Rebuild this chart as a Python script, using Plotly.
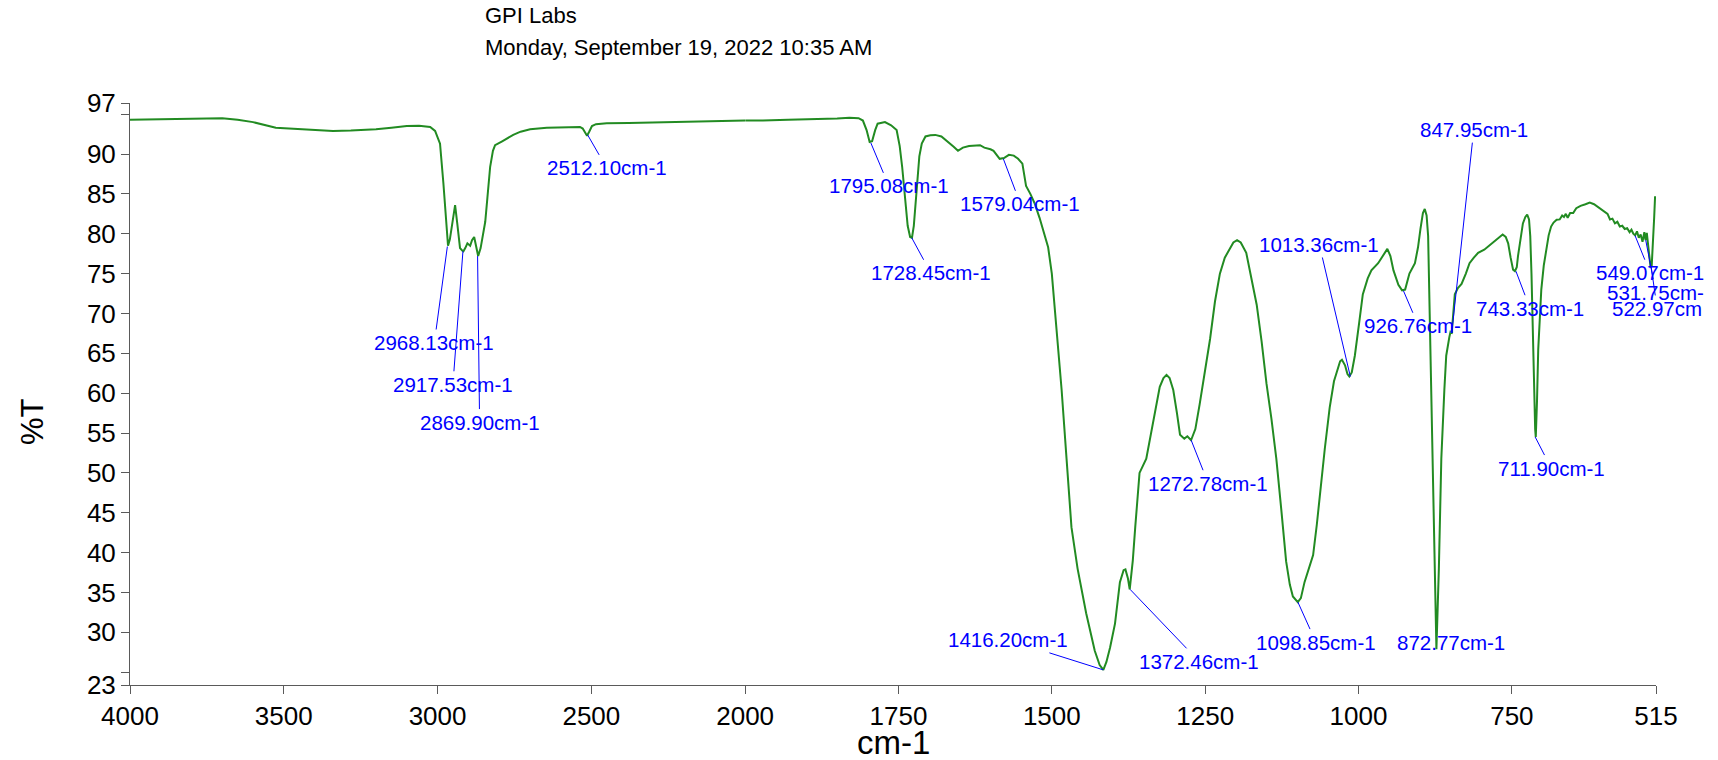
import plotly.graph_objects as go

# ---------------- data ----------------
wavenumber = [4000, 3950, 3900, 3850, 3800, 3750, 3700, 3650, 3600, 3526, 3450, 3400, 3340, 3282, 3240, 3200, 3150, 3100, 3060, 3040, 3024,
              3008, 2992, 2981, 2972, 2966, 2960, 2954, 2948, 2943, 2936, 2931, 2927, 2920, 2916, 2910, 2903, 2894, 2888, 2881, 2875, 2868,
              2860, 2852, 2845, 2838, 2829, 2820, 2813, 2790, 2754, 2730, 2699, 2645, 2600, 2560, 2537, 2528, 2520, 2514, 2507, 2498, 2485,
              2450, 2378, 2300, 2250, 2192, 2150, 2100, 2050, 2000,
              1971, 1930, 1890, 1850, 1830, 1815, 1808, 1802, 1797, 1793, 1788, 1784, 1772, 1762, 1753, 1748, 1744, 1740, 1735, 1731, 1728,
              1725, 1722, 1719, 1716, 1712, 1706, 1698, 1690, 1680, 1670, 1660, 1653, 1645, 1635, 1625, 1617, 1610, 1600, 1595, 1590, 1585,
              1578, 1570, 1562, 1555, 1548, 1542, 1535, 1528, 1520, 1512, 1506, 1500, 1492, 1484, 1476, 1468, 1458, 1444, 1430, 1422, 1416,
              1411, 1405, 1397, 1389, 1383, 1380, 1376, 1373, 1368, 1364, 1357, 1346, 1335, 1324, 1318, 1313, 1308, 1302, 1296, 1291, 1284,
              1279, 1273, 1266, 1259, 1250, 1242, 1234, 1226, 1218, 1210, 1204, 1198, 1192, 1183, 1175, 1166, 1158, 1150, 1142, 1134, 1126,
              1118, 1112, 1107, 1099, 1094, 1088, 1080, 1074, 1068, 1063, 1055, 1047, 1040, 1036, 1030, 1027, 1022, 1018, 1015, 1011, 1006,
              999, 993, 985, 979, 968, 960, 953, 948, 943, 935, 929, 924, 917, 908, 903, 899, 895, 892, 889, 886.5, 884, 881, 877, 873, 869,
              865, 860, 857, 852, 850, 848, 845, 843, 838, 832, 825, 819, 812, 805, 795, 786, 775, 765, 760, 756, 752, 748, 745, 742, 740,
              736, 732, 728, 725, 722, 720, 718, 716, 714, 712, 711, 709, 707, 704, 702, 698, 694, 690, 686, 682, 677, 672, 668, 665, 662,
              659, 655, 650, 645, 638, 630, 623, 616, 610, 604, 599, 594, 590, 586, 582, 578, 574, 570, 566, 562, 558, 555, 552, 549, 546,
              543, 540, 537, 534, 532, 530, 528, 526, 524, 522, 520, 518, 516.5]
transmittance = [94.3, 94.3, 94.35, 94.4, 94.45, 94.5, 94.5, 94.3, 94.0, 93.3, 93.15, 93.05, 92.9, 92.95, 93.0, 93.1, 93.3, 93.5, 93.55, 93.5, 93.4,
                 92.9, 91.3, 86.3, 82.2, 78.5, 79.3, 80.9, 82.8, 83.6, 81.3, 79.3, 78.2, 77.9, 77.8, 78.2, 78.8, 78.5, 79.2, 79.6, 78.4, 77.2,
                 78.2, 80.0, 81.5, 84.5, 88.4, 90.4, 91.1, 91.6, 92.4, 92.8, 93.1, 93.3, 93.35, 93.4, 93.4, 93.2, 92.6, 92.3, 92.8, 93.5, 93.75,
                 93.85, 93.9, 93.95, 94.0, 94.0, 94.05, 94.1, 94.15, 94.2,
                 94.2, 94.3, 94.35, 94.45, 94.55, 94.5, 94.2, 93.0, 91.5, 91.6, 93.0, 93.8, 94.0, 93.6, 93.0, 91.0, 88.4, 85.0, 81.0, 79.6, 79.5,
                 81.0, 84.2, 87.5, 89.7, 91.3, 92.2, 92.35, 92.4, 92.2, 91.6, 90.9, 90.4, 90.8, 91.0, 91.1, 91.1, 90.8, 90.6, 90.4, 89.9, 89.4,
                 89.5, 89.9, 89.8, 89.4, 88.8, 86.0, 85.0, 83.8, 82.0, 79.8, 78.3, 75.0, 68.1, 60.4, 51.8, 43.2, 38.0, 32.4, 27.7, 25.9, 25.3,
                 26.3, 28.1, 31.1, 36.3, 37.8, 37.9, 36.8, 35.4, 39.0, 43.2, 50.0, 51.8, 56.1, 60.8, 61.9, 62.3, 61.9, 60.4, 57.5, 54.8, 54.3,
                 54.6, 54.1, 55.5, 58.6, 63.0, 66.8, 71.5, 75.0, 77.0, 78.2, 78.9, 79.2, 78.9, 77.6, 74.5, 71.1, 66.5, 61.2, 56.8, 51.8, 45.5,
                 38.9, 36.0, 34.5, 33.8, 34.3, 36.3, 38.4, 39.7, 43.5, 47.5, 53.0, 58.2, 61.5, 62.5, 64.0, 64.2, 63.5, 62.4, 62.1, 62.6, 64.7,
                 68.8, 72.4, 74.4, 75.4, 76.3, 77.2, 78.1, 77.2, 75.4, 73.6, 72.9, 73.0, 75.0, 76.3, 78.3, 80.6, 82.6, 83.1, 82.3, 79.7, 70.0,
                 56.1, 40.0, 27.9, 38.0, 51.8, 60.5, 64.7, 67.0, 67.7, 67.6, 70.5, 72.4, 73.2, 73.7, 75.0, 76.3, 77.0, 77.6, 78.0, 78.6, 79.3,
                 79.9, 79.6, 78.8, 77.0, 75.5, 75.3, 75.8, 77.2, 79.5, 81.3, 82.1, 82.4, 81.8, 79.7, 75.0, 69.7, 62.0, 55.5, 54.5, 59.0, 65.5,
                 70.0, 73.0, 76.0, 78.0, 79.8, 80.9, 81.4, 81.75, 81.8, 82.3, 82.1, 82.5, 82.0, 82.6, 82.6, 83.2, 83.5, 83.7, 83.9, 83.7, 83.4,
                 83.1, 82.8, 82.5, 81.8, 81.9, 81.3, 81.5, 80.9, 81.0, 80.6, 80.7, 80.2, 80.5, 80.0, 79.8, 80.3, 79.5, 79.9, 79.0, 80.2, 79.2,
                 80.1, 78.4, 77.0, 75.9, 76.0, 78.5, 82.0, 84.7]

peak_positions = [2968.13, 2917.53, 2869.90, 2512.10, 1795.08, 1728.45, 1579.04, 1416.20, 1372.46, 1272.78, 1098.85,
                  1013.36, 926.76, 872.77, 847.95, 743.33, 711.90, 549.07, 531.75, 522.97]
peak_values = [78.4, 77.8, 77.2, 92.4, 91.4, 79.5, 89.4, 25.3, 35.4, 54.1, 33.8,
               62.1, 72.85, 27.9, 67.6, 75.3, 54.5, 79.75, 79.2, 75.9]
peak_labels = ["2968.13cm-1", "2917.53cm-1", "2869.90cm-1", "2512.10cm-1", "1795.08cm-1", "1728.45cm-1", "1579.04cm-1",
               "1416.20cm-1", "1372.46cm-1", "1272.78cm-1", "1098.85cm-1", "1013.36cm-1", "926.76cm-1", "872.77cm-1",
               "847.95cm-1", "743.33cm-1", "711.90cm-1", "549.07cm-1", "531.75cm-", "522.97cm"]
# label offsets (pixels) from the marked point to the label centre
label_dx = [-13, -10, 2, 19, 18, 19, 17, -95, 69, 17, 18, -31, 15, 14, 22, 14, 16, 15, 10, 6]
label_dy = [96, 133, 166, 33, 43, 35, 45, -30, 72, 43, 40, -132, 35, -7, -203, 37, 31, 37, 52, 42]

x_ticks_high = [4000, 3500, 3000, 2500, 2000]
x_ticks_low = [1750, 1500, 1250, 1000, 750, 515]
y_tickvals = [23.4, 25, 30, 35, 40, 45, 50, 55, 60, 65, 70, 75, 80, 85, 90, 95, 96.4]
y_ticktext = ["23", "", "30", "35", "40", "45", "50", "55", "60", "65", "70", "75", "80", "85", "90", "", "97"]

title_line1 = "GPI Labs"
title_line2 = "Monday, September 19, 2022 10:35 AM"

# ---------------- figure ----------------
GREEN = "#228B22"
BLUE = "#0000FF"
AXC = "#5a5a5a"
FONT = "Liberation Sans, Arial, sans-serif"
split = 0.4031

hi = [(w, t) for w, t in zip(wavenumber, transmittance) if w >= 2000]
lo = [(w, t) for w, t in zip(wavenumber, transmittance) if w <= 2000]

fig = go.Figure()
fig.add_trace(go.Scatter(x=[p[0] for p in hi], y=[p[1] for p in hi], mode="lines",
                         line=dict(color=GREEN, width=2), xaxis="x", yaxis="y", showlegend=False, hoverinfo="x+y"))
fig.add_trace(go.Scatter(x=[p[0] for p in lo], y=[p[1] for p in lo], mode="lines",
                         line=dict(color=GREEN, width=2), xaxis="x2", yaxis="y", showlegend=False, hoverinfo="x+y"))

axis_common = dict(showline=True, linecolor=AXC, linewidth=1, ticks="outside", ticklen=8, tickcolor=AXC,
                   showgrid=False, zeroline=False, tickfont=dict(family=FONT, size=26, color="black"))

fig.update_layout(
    width=1718, height=760,
    margin=dict(l=130, r=62, t=103, b=75),
    paper_bgcolor="white", plot_bgcolor="white",
    xaxis=dict(domain=[0, split], range=[4000, 2000], tickvals=x_ticks_high, anchor="y", **axis_common),
    xaxis2=dict(domain=[split, 1], range=[2000, 515], tickvals=x_ticks_low, anchor="y", **axis_common),
    yaxis=dict(range=[23.4, 96.4], tickvals=y_tickvals, ticktext=y_ticktext, anchor="x", **axis_common),
    font=dict(family=FONT),
)

annotations = []
for w, v, txt, dx, dy in zip(peak_positions, peak_values, peak_labels, label_dx, label_dy):
    annotations.append(dict(
        x=w, y=v, xref="x" if w >= 2000 else "x2", yref="y", text=txt,
        showarrow=True, arrowhead=0, arrowwidth=1, arrowcolor=BLUE, ax=dx, ay=dy, standoff=0,
        font=dict(family=FONT, size=20.5, color=BLUE)))

annotations += [
    dict(x=0.2313, y=1.1501, xref="paper", yref="paper", text=title_line1, showarrow=False,
         xanchor="left", yanchor="middle", font=dict(family=FONT, size=22, color="black")),
    dict(x=0.2313, y=1.0955, xref="paper", yref="paper", text=title_line2, showarrow=False,
         xanchor="left", yanchor="middle", font=dict(family=FONT, size=22, color="black")),
    dict(x=0.5, y=-0.0996, xref="paper", yref="paper", text="cm-1", showarrow=False,
         xanchor="center", yanchor="middle", font=dict(family=FONT, size=33, color="black")),
    dict(x=-0.0635, y=0.452, xref="paper", yref="paper", text="%T", showarrow=False, textangle=-90,
         xanchor="center", yanchor="middle", font=dict(family=FONT, size=31, color="black")),
]
fig.update_layout(annotations=annotations)

fig.write_html("out.html", config={"displayModeBar": False},
               post_script="document.body.style.margin='0px';")
